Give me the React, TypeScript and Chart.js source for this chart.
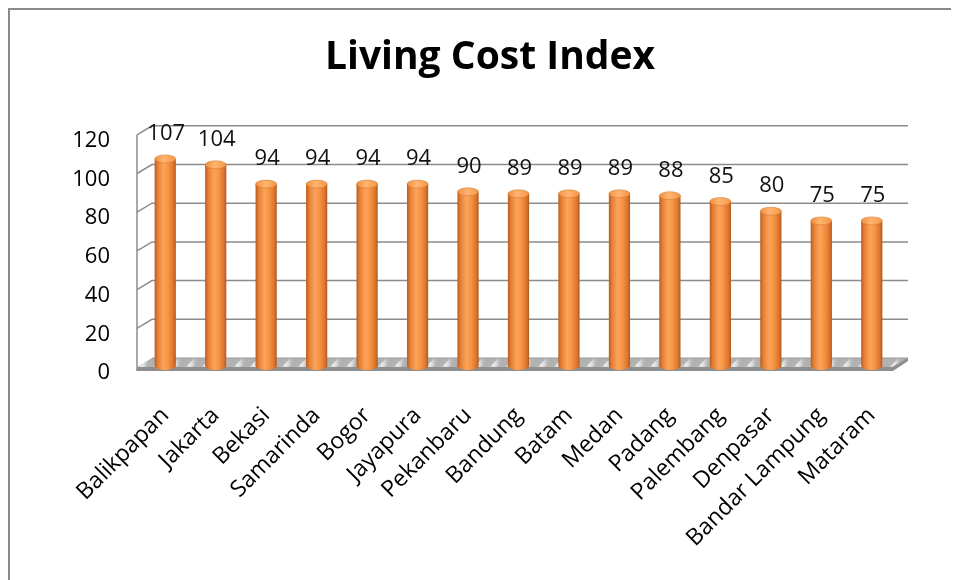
import React, { useEffect, useRef } from "react";
import { Chart, registerables } from "chart.js";

Chart.register(...registerables);

const chartTitle = "Living Cost Index";
const categories = [
  "Balikpapan", "Jakarta", "Bekasi", "Samarinda", "Bogor", "Jayapura", "Pekanbaru",
  "Bandung", "Batam", "Medan", "Padang", "Palembang", "Denpasar", "Bandar Lampung", "Mataram",
];
const values = [107, 104, 94, 94, 94, 94, 90, 89, 89, 89, 88, 85, 80, 75, 75];
const yTicks = [0, 20, 40, 60, 80, 100, 120];

const FONT = '"Open Sans", "DejaVu Sans", sans-serif';

function barGradient(ctx: CanvasRenderingContext2D, x0: number, x1: number) {
  const g = ctx.createLinearGradient(x0, 0, x1, 0);
  g.addColorStop(0, "#b85c1b");
  g.addColorStop(0.15, "#e58036");
  g.addColorStop(0.42, "#fca45a");
  g.addColorStop(0.62, "#f89647");
  g.addColorStop(0.88, "#dc752d");
  g.addColorStop(1, "#ad581a");
  return g;
}

const wallPlugin = {
  id: "wall3d",
  beforeDatasetsDraw(chart: any) {
    const { ctx, chartArea } = chart;
    const ys = chart.scales.y;
    const L = chartArea.left;
    const R = chartArea.right;
    const back = (v: number) => ys.getPixelForValue(v) - 8;
    ctx.save();
    ctx.strokeStyle = "#8c8c8c";
    ctx.lineWidth = 1.5;
    ctx.beginPath();
    ctx.moveTo(L - 3, back(yTicks[yTicks.length - 1]) + 9);
    ctx.lineTo(L - 3, back(0) + 13);
    ctx.stroke();
    for (const v of yTicks) {
      if (v === 0) continue;
      const by = back(v);
      ctx.beginPath();
      ctx.moveTo(L - 3, by + 9);
      ctx.lineTo(L + 12, by);
      ctx.lineTo(R + 11, by);
      ctx.stroke();
    }
    const b0 = back(0);
    const f0 = b0 + 9;
    ctx.beginPath();
    ctx.moveTo(L + 12, b0);
    ctx.lineTo(R + 11, b0);
    ctx.lineTo(R - 4, f0);
    ctx.lineTo(L - 3, f0);
    ctx.closePath();
    ctx.fillStyle = "#b2b2b2";
    ctx.fill();
    ctx.save();
    ctx.clip();
    for (let x = L - 20; x < R + 30; x += 16) {
      const sg = ctx.createLinearGradient(x, 0, x + 12, 0);
      sg.addColorStop(0, "rgba(255,255,255,0)");
      sg.addColorStop(0.5, "rgba(245,245,245,0.85)");
      sg.addColorStop(1, "rgba(255,255,255,0)");
      ctx.fillStyle = sg;
      ctx.beginPath();
      ctx.moveTo(x, f0 + 1);
      ctx.lineTo(x + 8, f0 + 1);
      ctx.lineTo(x + 20, b0 - 1);
      ctx.lineTo(x + 12, b0 - 1);
      ctx.closePath();
      ctx.fill();
    }
    ctx.restore();
    ctx.strokeStyle = "#9a9a9a";
    ctx.lineWidth = 1;
    ctx.beginPath();
    ctx.moveTo(L + 12, b0);
    ctx.lineTo(R + 11, b0);
    ctx.lineTo(R - 4, f0);
    ctx.stroke();
    ctx.beginPath();
    ctx.moveTo(L - 3, f0);
    ctx.lineTo(R - 4, f0);
    ctx.lineTo(R + 11, b0);
    ctx.lineTo(R + 11, b0 + 3);
    ctx.lineTo(R - 4, f0 + 4);
    ctx.lineTo(L - 3, f0 + 4);
    ctx.closePath();
    ctx.fillStyle = "#8e8e8e";
    ctx.fill();
    ctx.restore();
  },
  afterDatasetsDraw(chart: any) {
    const { ctx } = chart;
    const meta = chart.getDatasetMeta(0);
    ctx.save();
    meta.data.forEach((el: any, i: number) => {
      const w = el.width;
      const x0 = el.x - w / 2;
      const x1 = el.x + w / 2;
      ctx.beginPath();
      ctx.ellipse(el.x, el.base, w / 2, 4, 0, 0, Math.PI);
      ctx.fillStyle = barGradient(ctx, x0, x1);
      ctx.fill();
      ctx.beginPath();
      ctx.ellipse(el.x, el.y, w / 2, 4, 0, 0, Math.PI * 2);
      const tg = ctx.createLinearGradient(x0, 0, x1, 0);
      tg.addColorStop(0, "#f2903e");
      tg.addColorStop(0.45, "#ffb471");
      tg.addColorStop(1, "#f49743");
      ctx.fillStyle = tg;
      ctx.fill();
      ctx.strokeStyle = "rgba(205,110,40,0.6)";
      ctx.lineWidth = 0.8;
      ctx.stroke();
      ctx.fillStyle = "#111";
      ctx.font = `22px ${FONT}`;
      ctx.textAlign = "center";
      ctx.textBaseline = "middle";
      ctx.fillText(String(values[i]), el.x + 1, el.y - 25);
    });
    ctx.restore();
  },
};

export default function App() {
  const ref = useRef<HTMLCanvasElement>(null);
  useEffect(() => {
    const canvas = ref.current;
    if (!canvas) return;
    const chart = new Chart(canvas, {
      type: "bar",
      data: {
        labels: categories,
        datasets: [
          {
            data: values,
            yAxisID: "y",
            barPercentage: 0.42,
            categoryPercentage: 1,
            borderWidth: 0,
            backgroundColor: (c: any) => {
              const ch = c.chart;
              if (!ch.chartArea || !ch.scales.x) return "#f79646";
              const xs = ch.scales.x;
              const cx = xs.getPixelForValue(c.dataIndex);
              const w = (ch.chartArea.width / categories.length) * 0.42;
              return barGradient(ch.ctx, cx - w / 2, cx + w / 2);
            },
          },
        ],
      },
      options: {
        responsive: false,
        animation: false,
        layout: { padding: { left: 20, right: 9, top: 0, bottom: 0 } },
        plugins: {
          legend: { display: false },
          tooltip: { enabled: false },
          title: {
            display: true,
            text: chartTitle,
            color: "#000",
            font: { family: FONT, size: 39, weight: "bold", lineHeight: 1.2 },
            padding: { top: 24, bottom: 53 },
          },
        },
        scales: {
          x: {
            type: "category",
            grid: { display: false, drawTicks: false },
            border: { display: false },
            ticks: {
              autoSkip: false,
              minRotation: 45,
              maxRotation: 45,
              padding: 36,
              color: "#000",
              font: { family: FONT, size: 23 },
            },
            afterFit: (s: any) => {
              s.height = 214;
            },
          },
          y: {
            position: "left",
            min: 0,
            max: 120,
            grid: { display: false, drawTicks: false },
            border: { display: false },
            ticks: {
              stepSize: 20,
              padding: 30,
              labelOffset: 7,
              color: "#000",
              font: { family: FONT, size: 22 },
            },
            afterFit: (s: any) => {
              s.width = 110;
            },
          },
          y2: {
            position: "right",
            display: true,
            grid: { display: false, drawTicks: false },
            border: { display: false },
            ticks: { display: false },
            afterFit: (s: any) => {
              s.width = 53;
            },
          },
        },
      },
      plugins: [wallPlugin],
    } as any);
    return () => chart.destroy();
  }, []);
  return (
    <div
      style={{
        width: 951,
        height: 572,
        boxSizing: "border-box",
        borderLeft: "2px solid #8a8a8a",
        borderTop: "2px solid #8a8a8a",
        overflow: "hidden",
        background: "#fff",
      }}
    >
      <canvas ref={ref} width={949} height={570} style={{ display: "block" }} />
    </div>
  );
}
